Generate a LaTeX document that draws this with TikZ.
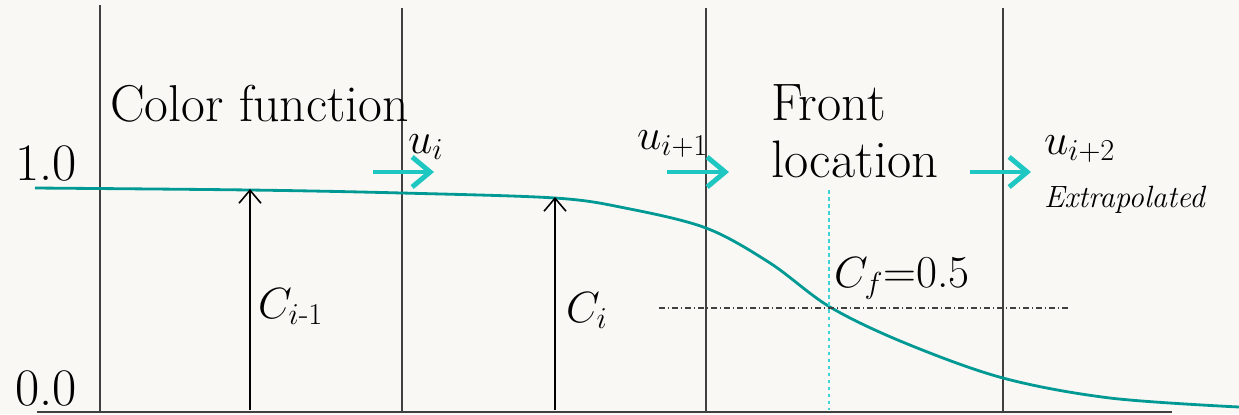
\documentclass[tikz,border=0pt]{standalone}
\usepackage{amsmath}
\usepackage{tikz}
\usetikzlibrary{positioning, arrows.meta, calc}
\definecolor{papergray}{rgb}{0.98, 0.973, 0.961}
\definecolor{gridgray}{gray}{0.25}
\definecolor{curveteal}{rgb}{0.0, 0.60, 0.58}
\definecolor{flowcyan}{rgb}{0.12, 0.78, 0.76}
\definecolor{frontcyan}{rgb}{0.25, 0.82, 0.84}

\begin{document}
\begin{tikzpicture}[
    x=0.02cm, y=-0.02cm,
    every node/.style={inner sep=0pt, outer sep=0pt},
    big/.style   ={font=\fontsize{30}{33}\selectfont, anchor=base west},
    mathlbl/.style={font=\fontsize{26}{30}\selectfont, anchor=base west},
    small/.style ={font=\fontsize{17.5}{20}\selectfont\itshape, anchor=base west},
    cell/.style  ={draw=gridgray, line width=0.7pt},
    axisline/.style={draw=gridgray, line width=0.9pt},
    curve/.style ={draw=curveteal, line width=1.6pt},
    vel/.style   ={draw=flowcyan, line width=2.8pt, -{Straight Barb[length=3.6mm, width=6mm, line width=2.8pt]}},
    conc/.style  ={draw=black, line width=0.9pt, -{Straight Barb[length=2.6mm, width=4.4mm, line width=0.9pt]}},
    level/.style ={draw=gridgray, line width=0.6pt, dash pattern=on 3.4pt off 1.7pt on 0.6pt off 1.7pt},
    frontline/.style={draw=frontcyan, line width=0.7pt, dash pattern=on 2pt off 2pt}
]

% ========== background ==========
\fill[papergray] (0,0) rectangle (1239,414);
\useasboundingbox (0,0) rectangle (1239,414);

% ========== cell faces ==========
\foreach \xf/\yt [count=\k] in {100/5, 402/8, 706/8, 1003/8} {
    \coordinate (top\k) at (\xf,\yt);
    \coordinate (bot\k) at (\xf,412);
    \draw[cell] (top\k) -- (bot\k);
}
\coordinate (axisL) at (37,412);
\coordinate (axisR) at (1172,412);
\draw[axisline] (axisL) -- (axisR);

% ========== color function ==========
\draw[curve] plot[smooth, tension=0.55] coordinates {
    (35,188) (250,190) (402,193) (555,198) (625,208) (706,228)
    (770,263) (830,307) (905,343) (1003,378) (1110,398) (1239,407)};

% ========== C_f = 0.5 level and front ==========
\coordinate (lvlL) at (659,308);
\coordinate (lvlR) at (1069,308);
\draw[level] (lvlL) -- (lvlR);
\coordinate (frontT) at (829,190);
\coordinate (frontB) at (829,410);
\draw[frontline] (frontT) -- (frontB);

% ========== cell values ==========
\coordinate (cim1B) at (250,410);
\coordinate (cim1T) at (250,189);
\coordinate (ciB)   at (555,410);
\coordinate (ciT)   at (555,197);
\draw[conc] (cim1B) -- (cim1T);
\draw[conc] (ciB) -- (ciT);

% ========== face velocities ==========
\coordinate (ui0)  at (373,172);  \coordinate (ui1)  at (434,172);
\coordinate (uip0) at (667,172);  \coordinate (uip1) at (729,172);
\coordinate (uiq0) at (970,172);  \coordinate (uiq1) at (1031,172);
\draw[vel] (ui0) -- (ui1);
\draw[vel] (uip0) -- (uip1);
\draw[vel] (uiq0) -- (uiq1);

% ========== labels ==========
\node[big] (one)   at (15,180)  {1.0};
\node[big] (zero)  at (15,405)  {0.0};
\node[big, font=\fontsize{29.5}{33}\selectfont] (cfun) at (110,121) {Color function};
\node[big] (front) at (771,120) {Front};
\node[big] (loc)   at (771,177) {location};

\node[mathlbl] (lui)   at (408,153) {$u_i$};
\node[mathlbl] (luip)  at (637,149) {$u_{i+1}$};
\node[mathlbl] (luiq)  at (1044,154) {$u_{i+2}$};
\node[small]   (extra) at (1044,207) {Extrapolated};

\node[mathlbl] (lcim1) at (258,318) {$C_{i\text{-}1}$};
\node[mathlbl] (lci)   at (566,322) {$C_i$};
\node[mathlbl] (lcf)   at (834,287) {$C_f$=0.5};

\end{tikzpicture}
\end{document}
